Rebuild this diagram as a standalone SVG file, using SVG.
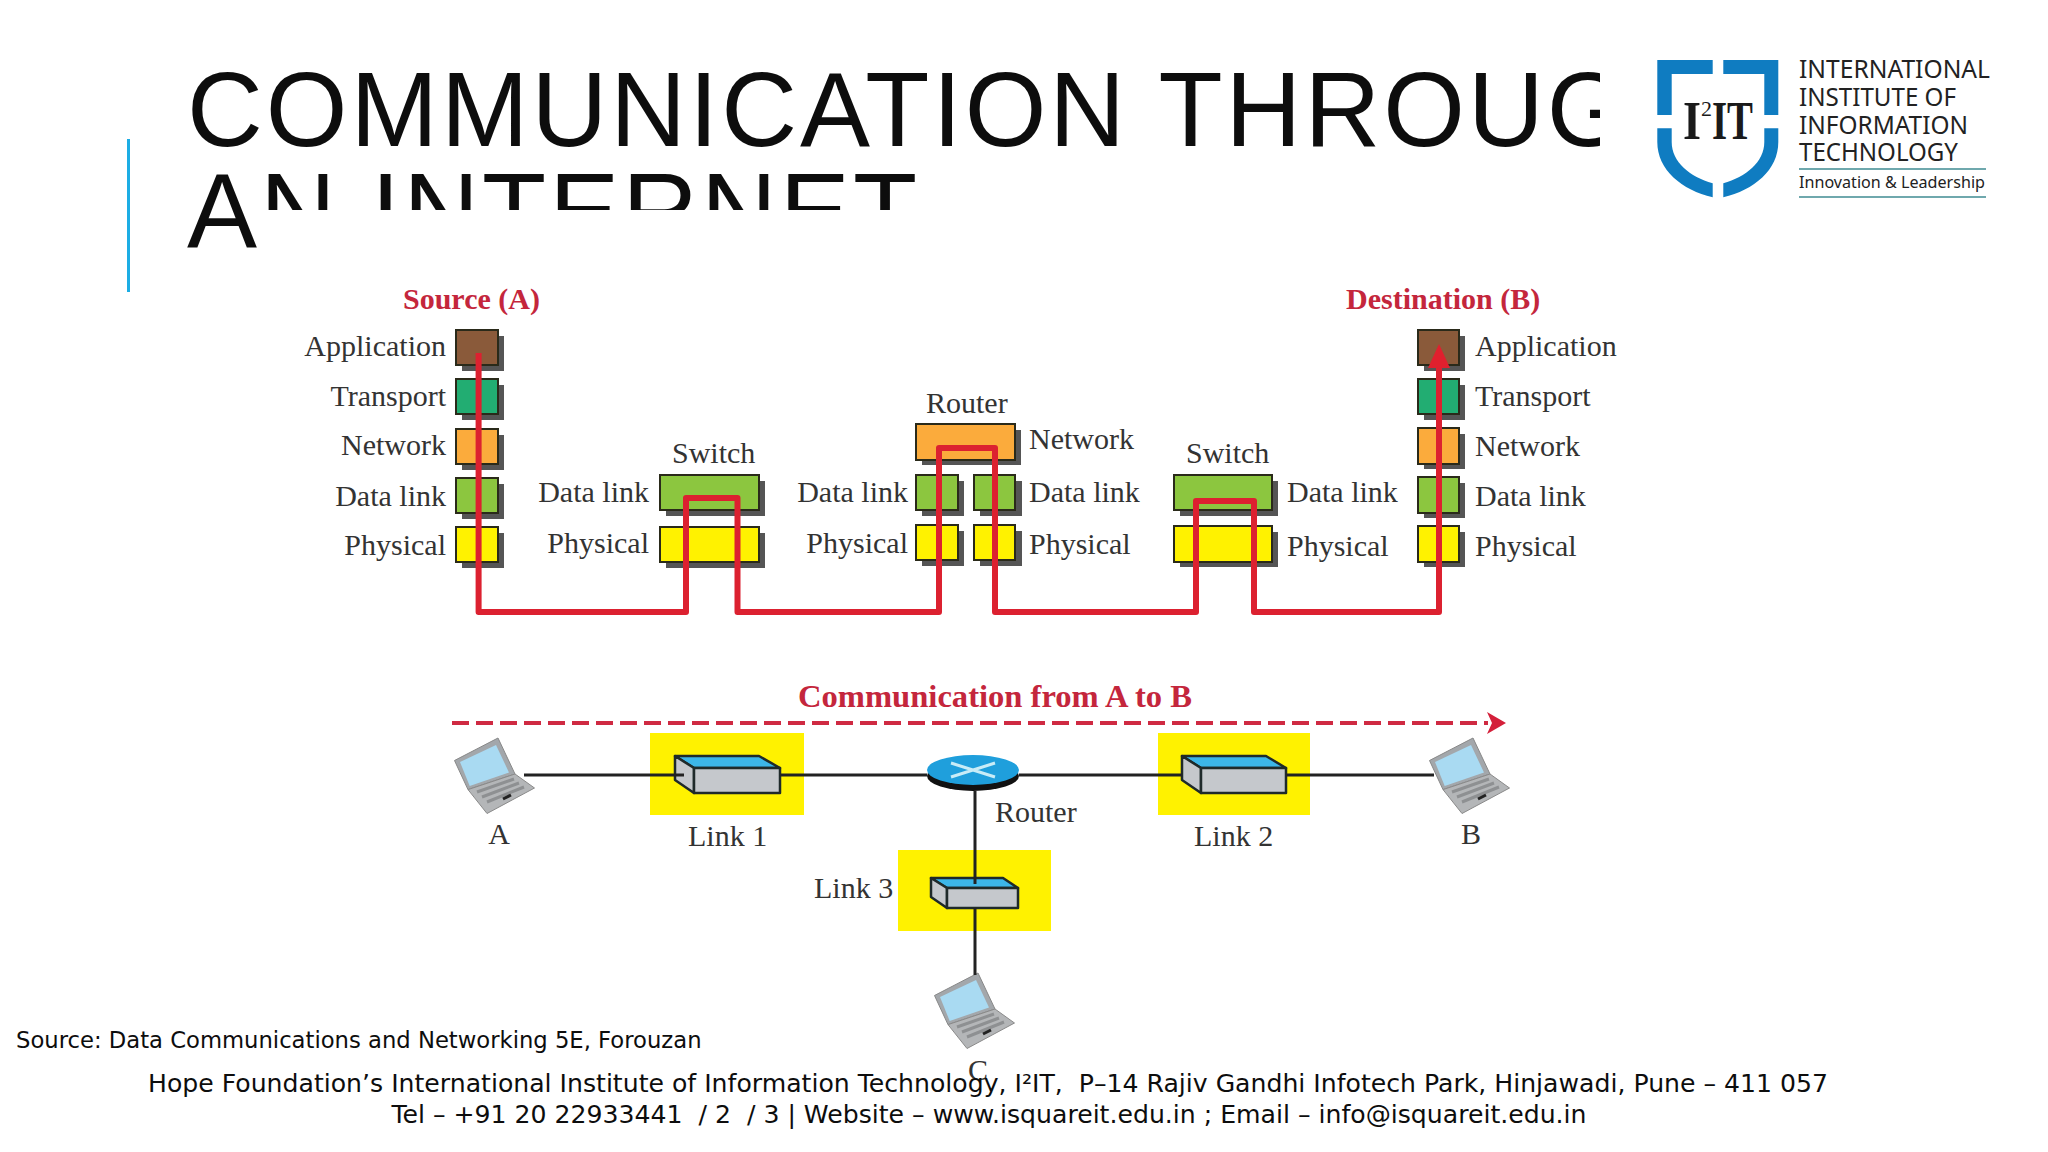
<svg xmlns="http://www.w3.org/2000/svg" width="2048" height="1152" viewBox="0 0 2048 1152">
<style>
text{font-family:"Liberation Serif","Times New Roman",serif}
.l{font-size:30px;fill:#333}
.e{text-anchor:end}
.r{font-size:30px;font-weight:bold;fill:#c4263c}
.t{font-family:"Liberation Sans",Arial,sans-serif;font-size:105px;fill:#0d0d0d;letter-spacing:3px}
.f{font-family:"DejaVu Sans",sans-serif;font-size:25.150px;fill:#0d0d0d;text-anchor:middle;white-space:pre}
.o{font-family:"Noto Sans",sans-serif;fill:#222}
.s{fill:#555}
.b{stroke:#2a2a1a;stroke-width:2}
.br{fill:#8a5a3a}.tr{fill:#22ad72}.nw{fill:#fbab3c}.dl{fill:#8cc63f}.ph{fill:#fff200}
.y{fill:#fff200}
.fr{fill:#c5c8cc;stroke:#1f2a2a;stroke-width:2.5;stroke-linejoin:round}
.tp{fill:#3cb6e8;stroke:#1f2a2a;stroke-width:2.5;stroke-linejoin:round}
.k{stroke:#222;stroke-width:3;fill:none}
.sh{fill:#0f7cc1}
</style>
<defs>
<marker id="ah" markerUnits="userSpaceOnUse" markerWidth="24" markerHeight="24" refX="6" refY="12" orient="auto"><path d="M0 1L24 12L0 23z" fill="#e0202e"/></marker>
<marker id="ad" markerUnits="userSpaceOnUse" markerWidth="20" markerHeight="24" refX="1" refY="12" orient="auto"><path d="M0 1L19 12L0 23L5 12z" fill="#d4203a"/></marker>
<g id="laptop">
<path d="M454.500 762.500L498 740L515 776L468 791.600z" fill="#a3a7ab" stroke="#888" stroke-width="1"/>
<path d="M460 764L496 747L509 774.500L469.700 788z" fill="#a9daf2"/>
<path d="M468 791.600L515 776L534.500 790L487 815.500z" fill="#b4b6b8" stroke="#8a8a8a" stroke-width="1"/>
<path d="M477 794L514 781M482 799L519 785M487 804L524 789" stroke="#8e9092" stroke-width="3" fill="none"/>
<path d="M503 801L511 797" stroke="#222" stroke-width="3"/>
</g>
</defs>
<rect width="2048" height="1152" fill="#fff"/>
<rect id="accent-bar" x="127" y="139" width="3" height="153" fill="#1cade4"/>
<g id="title">
<text class="t" x="187" y="146">COMMUNICATION THROUG</text>
<text class="t" x="187" y="247">AN INTERNET</text>
</g>
<rect id="picture-ground" x="262" y="210" width="1400" height="942" fill="#fff"/>
<rect id="logo-ground" x="1600" y="0" width="448" height="215" fill="#fff"/>

<g id="logo">
<path class="sh" d="M1657.300 60H1712.700V74H1671.700V115H1657.300z"/>
<path class="sh" d="M1778.300 60H1723.300V74H1764.300V115H1778.300z"/>
<path class="sh" d="M1657.300 128.300H1671.700V142C1671.700 162 1690 177 1712.700 183.300V197.300C1682 190 1657.300 170 1657.300 142z"/>
<path class="sh" d="M1778.300 128.300H1764.300V142C1764.300 162 1746 177 1723.300 183.300V197.300C1754 190 1778.300 170 1778.300 142z"/>
<text x="1683" y="139" font-size="54" font-weight="bold" fill="#1a1a1a" textLength="18" lengthAdjust="spacingAndGlyphs">I</text>
<text x="1701" y="116" font-size="22" fill="#1a1a1a">2</text>
<text x="1712" y="139" font-size="54" font-weight="bold" fill="#1a1a1a" textLength="41" lengthAdjust="spacingAndGlyphs">IT</text>
<text class="o" x="1799" y="78" font-size="25" textLength="191" lengthAdjust="spacingAndGlyphs">INTERNATIONAL</text>
<text class="o" x="1799" y="106" font-size="25" textLength="157" lengthAdjust="spacingAndGlyphs">INSTITUTE OF</text>
<text class="o" x="1799" y="134" font-size="25" textLength="169" lengthAdjust="spacingAndGlyphs">INFORMATION</text>
<text class="o" x="1799" y="161" font-size="25" textLength="159" lengthAdjust="spacingAndGlyphs">TECHNOLOGY</text>
<rect x="1799" y="168" width="187" height="2" fill="#6fa8ad"/>
<text class="o" x="1799" y="187.500" font-size="17" textLength="186" lengthAdjust="spacingAndGlyphs">Innovation &amp; Leadership</text>
<rect x="1799" y="196" width="187" height="2" fill="#6fa8ad"/>
</g>

<g id="source-a">
<text class="r" x="403" y="309">Source (A)</text>
<rect class="s" x="462" y="336" width="42" height="35"/><rect class="b br" x="456" y="330" width="42" height="35"/>
<rect class="s" x="462" y="385" width="42" height="35"/><rect class="b tr" x="456" y="379" width="42" height="35"/>
<rect class="s" x="462" y="435" width="42" height="35"/><rect class="b nw" x="456" y="429" width="42" height="35"/>
<rect class="s" x="462" y="484" width="42" height="35"/><rect class="b dl" x="456" y="478" width="42" height="35"/>
<rect class="s" x="462" y="533" width="42" height="35"/><rect class="b ph" x="456" y="527" width="42" height="35"/>
<text class="l e" x="446" y="356">Application</text>
<text class="l e" x="446" y="406">Transport</text>
<text class="l e" x="446" y="455">Network</text>
<text class="l e" x="446" y="506">Data link</text>
<text class="l e" x="446" y="555">Physical</text>
</g>

<g id="switch-1">
<text class="l" x="672" y="463">Switch</text>
<rect class="s" x="666" y="481" width="99" height="35"/><rect class="b dl" x="660" y="475" width="99" height="35"/>
<rect class="s" x="666" y="533" width="99" height="35"/><rect class="b ph" x="660" y="527" width="99" height="35"/>
<text class="l e" x="649" y="502">Data link</text>
<text class="l e" x="649" y="553">Physical</text>
</g>

<g id="router-stack">
<text class="l" x="926" y="413">Router</text>
<rect class="s" x="922" y="430" width="99" height="35"/><rect class="b nw" x="916" y="424" width="99" height="36"/>
<rect class="s" x="922" y="481" width="42" height="35"/><rect class="b dl" x="916" y="475" width="42" height="35"/>
<rect class="s" x="980" y="481" width="42" height="35"/><rect class="b dl" x="974" y="475" width="41" height="35"/>
<rect class="s" x="922" y="531" width="42" height="35"/><rect class="b ph" x="916" y="525" width="42" height="35"/>
<rect class="s" x="980" y="531" width="42" height="35"/><rect class="b ph" x="974" y="525" width="41" height="35"/>
<text class="l" x="1029" y="449">Network</text>
<text class="l e" x="908" y="502">Data link</text>
<text class="l e" x="908" y="553">Physical</text>
<text class="l" x="1029" y="502">Data link</text>
<text class="l" x="1029" y="554">Physical</text>
</g>

<g id="switch-2">
<text class="l" x="1186" y="463">Switch</text>
<rect class="s" x="1180" y="481" width="98" height="35"/><rect class="b dl" x="1174" y="475" width="98" height="35"/>
<rect class="s" x="1180" y="532" width="98" height="35"/><rect class="b ph" x="1174" y="526" width="98" height="36"/>
<text class="l" x="1287" y="502">Data link</text>
<text class="l" x="1287" y="556">Physical</text>
</g>

<g id="destination-b">
<text class="r" x="1346" y="309">Destination (B)</text>
<rect class="s" x="1424" y="336" width="41" height="35"/><rect class="b br" x="1418" y="330" width="41" height="35"/>
<rect class="s" x="1424" y="385" width="41" height="35"/><rect class="b tr" x="1418" y="379" width="41" height="35"/>
<rect class="s" x="1424" y="434" width="41" height="35"/><rect class="b nw" x="1418" y="428" width="41" height="36"/>
<rect class="s" x="1424" y="483" width="41" height="35"/><rect class="b dl" x="1418" y="477" width="41" height="36"/>
<rect class="s" x="1424" y="532" width="41" height="35"/><rect class="b ph" x="1418" y="526" width="41" height="36"/>
<text class="l" x="1475" y="356">Application</text>
<text class="l" x="1475" y="406">Transport</text>
<text class="l" x="1475" y="456">Network</text>
<text class="l" x="1475" y="506">Data link</text>
<text class="l" x="1475" y="556">Physical</text>
</g>

<text id="comm-label" class="r" x="798" y="707" style="font-size:32.600px">Communication from A to B</text>

<g id="node-a"><use href="#laptop" y="-2"/><text class="l" x="499" y="844" text-anchor="middle">A</text></g>
<g id="node-link1">
<rect class="y" x="650" y="733" width="154" height="82"/>
<path class="tp" d="M675 756H759L780 768H694z"/>
<path class="fr" d="M675 756L694 768V793L675 780z"/>
<rect class="fr" x="694" y="768" width="86" height="25"/>
<text class="l" x="688" y="846">Link 1</text>
</g>
<g id="node-router">
<ellipse cx="973" cy="776" rx="46" ry="15" fill="#111"/>
<ellipse cx="973" cy="770" rx="46" ry="15" fill="#1f9fdc"/>
<path d="M951 763L995 777M995 763L951 777" stroke="#c8ecf7" stroke-width="3"/>
<text class="l" x="995" y="822">Router</text>
</g>
<g id="node-link3">
<rect class="y" x="898" y="850" width="153" height="81"/>
<path class="tp" d="M931 878H1003L1018 888H947z"/>
<path class="fr" d="M931 878L947 888V908L931 897z"/>
<rect class="fr" x="947" y="888" width="71" height="20"/>
<text class="l" x="814" y="898">Link 3</text>
</g>
<g id="node-link2">
<rect class="y" x="1158" y="733" width="152" height="82"/>
<path class="tp" d="M1182 756H1266L1286 768H1201z"/>
<path class="fr" d="M1182 756L1201 768V793L1182 780z"/>
<rect class="fr" x="1201" y="768" width="85" height="25"/>
<text class="l" x="1194" y="846">Link 2</text>
</g>
<g id="node-b"><use href="#laptop" x="975" y="-2"/><text class="l" x="1471" y="844" text-anchor="middle">B</text></g>
<g id="node-c"><use href="#laptop" x="480" y="233"/><text class="l" x="978" y="1080" text-anchor="middle">C</text></g>

<g id="connectors">
<path d="M478.600 353V612H686V498H737.500V612H939V448H995V612H1196V501H1254V612H1439V362" fill="none" stroke="#dc2130" stroke-width="6" stroke-linejoin="round" marker-end="url(#ah)"/>
<path d="M452 723H1488" fill="none" stroke="#cf2a42" stroke-width="4" stroke-dasharray="17 7" marker-end="url(#ad)"/>
<path class="k" d="M524 775H684M780 775H927M1019 775H1182M1286 775H1434"/>
<path class="k" d="M975 791V884M975 908V975"/>
</g>

<g id="footer">
<text class="f" x="16" y="1048" style="text-anchor:start;font-size:22.700px">Source: Data Communications and Networking 5E, Forouzan</text>
<text class="f" x="988" y="1092">Hope Foundation’s International Institute of Information Technology, I²IT,  P–14 Rajiv Gandhi Infotech Park, Hinjawadi, Pune – 411 057</text>
<text class="f" x="989" y="1123">Tel – +91 20 22933441  / 2  / 3 | Website – www.isquareit.edu.in ; Email – info@isquareit.edu.in</text>
</g>
</svg>
